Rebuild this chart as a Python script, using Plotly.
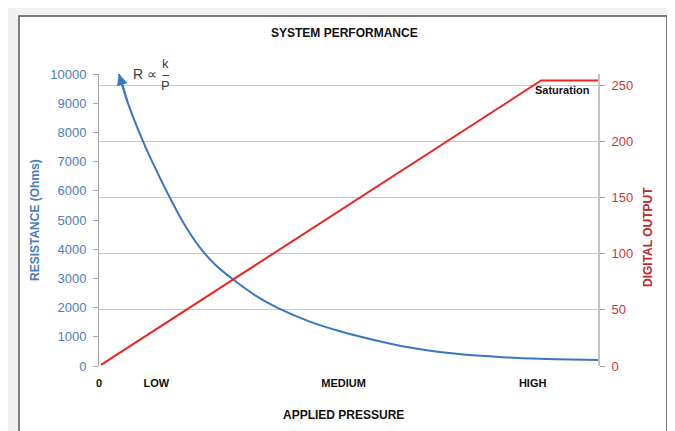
import plotly.graph_objects as go

# ---------------- data ----------------
pressure_blue = [4.0, 5.8, 8.8, 11.2, 13.8, 17.0, 20.2, 23.4, 26.9, 31.3, 35.9,
                 42.1, 48.3, 54.9, 61.7, 68.3, 74.9, 81.6, 88.4, 94.4, 100]
resistance = [10000, 9000, 7700, 6800, 5900, 4880, 4060, 3450, 2960, 2420, 1980,
              1530, 1190, 900, 650, 480, 370, 295, 245, 220, 205]

pressure_red = [0.4, 88.6, 100]
digital_output = [1, 254, 254]

x_tick_vals = [0, 11.5, 49, 86.9]
x_tick_text = ["0", "LOW", "MEDIUM", "HIGH"]
left_tick_vals = list(range(0, 10001, 1000))
right_tick_vals = [0, 50, 100, 150, 200, 250]

# ---------------- layout geometry ----------------
OFF = 8                      # page body margin
W, H = 675 - OFF, 431 - OFF
L, T = 99 - OFF, 74 - OFF
PW, PH = 499, 292
R, B = W - L - PW, H - T - PH


def px(xp):
    return (xp - OFF - L) / PW


def py(yp):
    return (H - B - (yp - OFF)) / PH


BLUE = "#3b76c2"
BLUE_TXT = "#4a7ebb"
RED = "#ee2424"
RED_TXT = "#cc3838"
RED_TITLE = "#c0272d"
FONT = "Arial, Liberation Sans, sans-serif"

fig = go.Figure()

fig.add_trace(go.Scatter(
    x=pressure_blue, y=resistance, mode="lines", yaxis="y",
    line=dict(color=BLUE, width=2, shape="spline", smoothing=0.6),
    cliponaxis=False, showlegend=False, hoverinfo="skip",
))

fig.add_trace(go.Scatter(
    x=pressure_red, y=digital_output, mode="lines", yaxis="y2",
    line=dict(color=RED, width=2),
    showlegend=False, hoverinfo="skip",
))

shapes = [
    dict(type="rect", xref="paper", yref="paper",
         x0=px(19), x1=px(667), y0=py(445), y1=py(16),
         fillcolor="white", line=dict(color="#555555", width=1.5),
         layer="below"),
    dict(type="line", xref="paper", yref="paper",
         x0=px(162.5), x1=px(169), y0=py(75.5), y1=py(75.5),
         line=dict(color="#404040", width=1)),
]

ann = [
    # arrow head at the start of the resistance curve
    dict(x=pressure_blue[0], y=resistance[0], xref="x", yref="y",
         ax=pressure_blue[1], ay=resistance[1], axref="x", ayref="y",
         text="", showarrow=True, arrowhead=2, arrowsize=1.1,
         arrowwidth=2, arrowcolor=BLUE, standoff=0, startstandoff=0),
]


def add_text(text, x, y, size, color="#000000", bold=False, angle=0):
    ann.append(dict(
        text=text, xref="paper", yref="paper", x=px(x), y=py(y),
        xanchor="center", yanchor="middle", showarrow=False, textangle=angle,
        font=dict(family=FONT, size=size, color=color,
                  weight="bold" if bold else "normal"),
    ))


add_text("SYSTEM PERFORMANCE", 344, 33, 12, "#111111", True)
add_text("APPLIED PRESSURE", 343, 415, 12, "#111111", True)
add_text("RESISTANCE (Ohms)", 35, 220, 12, BLUE_TXT, True, -90)
add_text("DIGITAL OUTPUT", 648, 237, 12, RED_TITLE, True, -90)
add_text("Saturation", 562, 90, 11, "#111111", True)
add_text("R \u221d", 144.5, 74, 14, "#404040")
add_text("k", 165.7, 63.5, 13, "#404040")
add_text("P", 165.7, 85, 13, "#404040")

fig.update_layout(
    width=W, height=H,
    margin=dict(l=L, r=R, t=T, b=B, autoexpand=False),
    paper_bgcolor="#f0f0f0",
    plot_bgcolor="white",
    font=dict(family=FONT),
    shapes=shapes,
    annotations=ann,
    xaxis=dict(
        range=[0, 100], tickmode="array", tickvals=x_tick_vals,
        ticktext=x_tick_text, showgrid=False, zeroline=False,
        showline=False, ticks="", ticklabelstandoff=9,
        tickfont=dict(family=FONT, size=11, color="#111111", weight="bold"),
    ),
    yaxis=dict(
        range=[0, 10000], tickmode="array", tickvals=left_tick_vals,
        tickformat="d",
        showgrid=False, zeroline=False, showline=True,
        linecolor="#a6a6a6", linewidth=1,
        ticks="outside", ticklen=5, tickcolor="#a6a6a6",
        ticklabelstandoff=4,
        tickfont=dict(family=FONT, size=13, color=BLUE_TXT),
    ),
    yaxis2=dict(
        range=[0, 259.8], tickmode="array", tickvals=right_tick_vals,
        overlaying="y", side="right",
        showgrid=True, gridcolor="#c8c8c8", gridwidth=1, zeroline=False,
        showline=True, linecolor="#c4c4c4", linewidth=2,
        ticks="outside", ticklen=5, tickcolor="#a6a6a6",
        ticklabelstandoff=4,
        tickfont=dict(family=FONT, size=13, color=RED_TXT),
    ),
)

fig.write_html("out.html")
